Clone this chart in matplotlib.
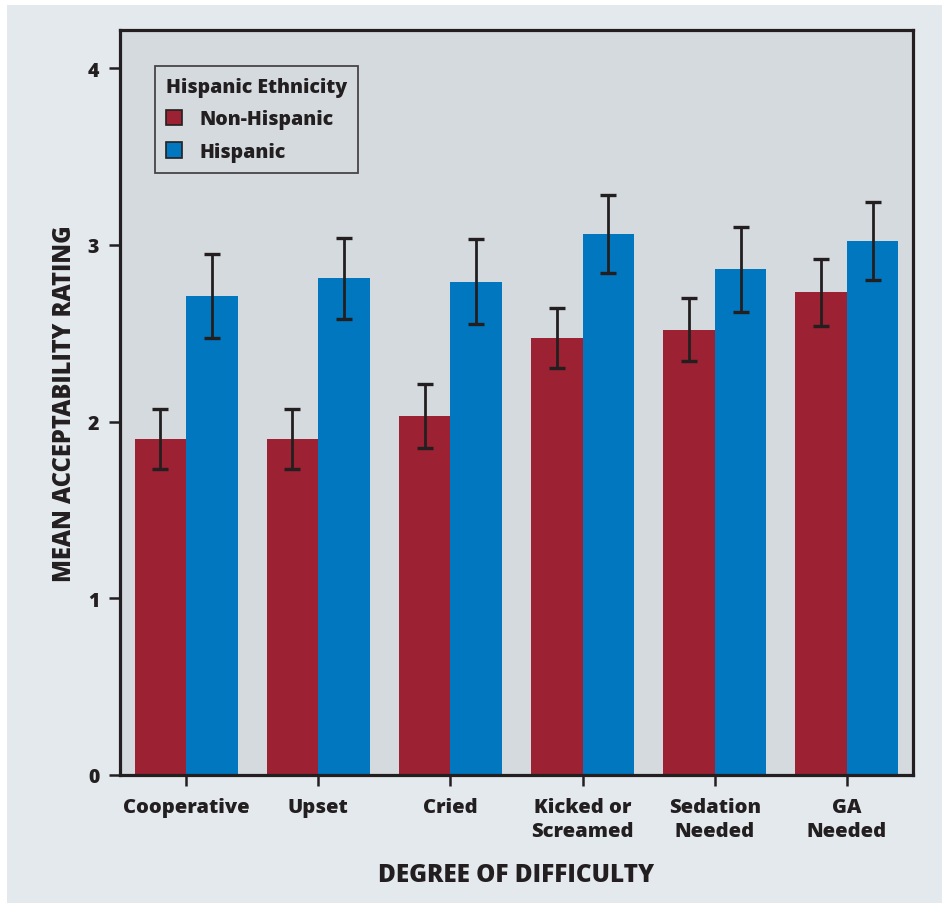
import matplotlib
matplotlib.use("Agg")
import matplotlib.pyplot as plt
import numpy as np
from matplotlib.patches import Rectangle, Patch

categories = ["Cooperative", "Upset", "Cried", "Kicked or\nScreamed",
              "Sedation\nNeeded", "GA\nNeeded"]
non_hispanic = [1.90, 1.90, 2.03, 2.47, 2.52, 2.73]
non_hispanic_err = [0.17, 0.17, 0.18, 0.17, 0.18, 0.19]
hispanic = [2.71, 2.81, 2.79, 3.06, 2.86, 3.02]
hispanic_err = [0.24, 0.23, 0.24, 0.22, 0.24, 0.22]
series_names = ["Non-Hispanic", "Hispanic"]
yticks = [0, 1, 2, 3, 4]

RED = "#9c2132"
BLUE = "#0077bf"
PANEL = "#e4e9ed"
AXBG = "#d5dade"
INK = "#231f20"

FONT = "Open Sans"

W, H = 942, 904
fig = plt.figure(figsize=(W / 100, H / 100), dpi=100, facecolor="white")
fig.patches.append(Rectangle((7 / W, 0), 1 - 7 / W, 1 - 6 / H,
                             transform=fig.transFigure, facecolor=PANEL,
                             edgecolor="none", zorder=-10))

ax = fig.add_axes([120 / W, 1 - 776 / H, (913 - 120) / W, (776 - 31) / H])
ax.set_facecolor(AXBG)

x = np.arange(len(categories))
bw = 0.39
ax.bar(x - bw / 2, non_hispanic, bw, color=RED, zorder=2)
ax.bar(x + bw / 2, hispanic, bw, color=BLUE, zorder=2)
ekw = dict(fmt="none", ecolor=INK, elinewidth=2.0, capsize=5.8, capthick=2.4, zorder=3)
ax.errorbar(x - bw / 2, non_hispanic, yerr=non_hispanic_err, **ekw)
ax.errorbar(x + bw / 2, hispanic, yerr=hispanic_err, **ekw)

ax.set_xlim(-0.5, len(categories) - 0.5)
ax.set_ylim(0, 4.215)
ax.set_yticks(yticks)
ax.set_yticklabels([str(t) for t in yticks], fontfamily=FONT, fontweight=800, fontsize=14)
ax.set_xticks(x)
ax.set_xticklabels(categories, fontfamily=FONT, fontweight=800, fontsize=14.5,
                   linespacing=1.25)
for s in ax.spines.values():
    s.set_linewidth(2.3)
    s.set_color(INK)
ax.tick_params(axis="both", direction="out", length=8, width=1.8, color=INK,
               labelcolor=INK)
ax.tick_params(axis="y", pad=7)
ax.tick_params(axis="x", pad=8)

ax.set_ylabel("MEAN ACCEPTABILITY RATING", fontfamily=FONT, fontweight=800,
              fontsize=17, color=INK, labelpad=8)
ax.set_xlabel("DEGREE OF DIFFICULTY", fontfamily=FONT, fontweight=800,
              fontsize=17.5, color=INK, labelpad=15)

handles = [Patch(facecolor=RED, edgecolor=INK, linewidth=1.2),
           Patch(facecolor=BLUE, edgecolor=INK, linewidth=1.2)]
leg = ax.legend(handles, series_names, title="Hispanic Ethnicity",
                loc="upper left", bbox_to_anchor=(35 / 793, (745 - 36) / 745),
                frameon=True, fancybox=False, facecolor=AXBG, edgecolor=INK,
                prop=dict(family=FONT, weight=800, size=14),
                title_fontproperties=dict(family=FONT, weight=800, size=14),
                handlelength=0.85, handleheight=0.85, handletextpad=0.9,
                labelspacing=0.65, borderpad=0.55, borderaxespad=0,
                alignment="left")
leg.get_frame().set_linewidth(1.3)
for t in leg.get_texts():
    t.set_color(INK)
leg.get_title().set_color(INK)

fig.savefig("out.png", dpi=100, facecolor=fig.get_facecolor())
